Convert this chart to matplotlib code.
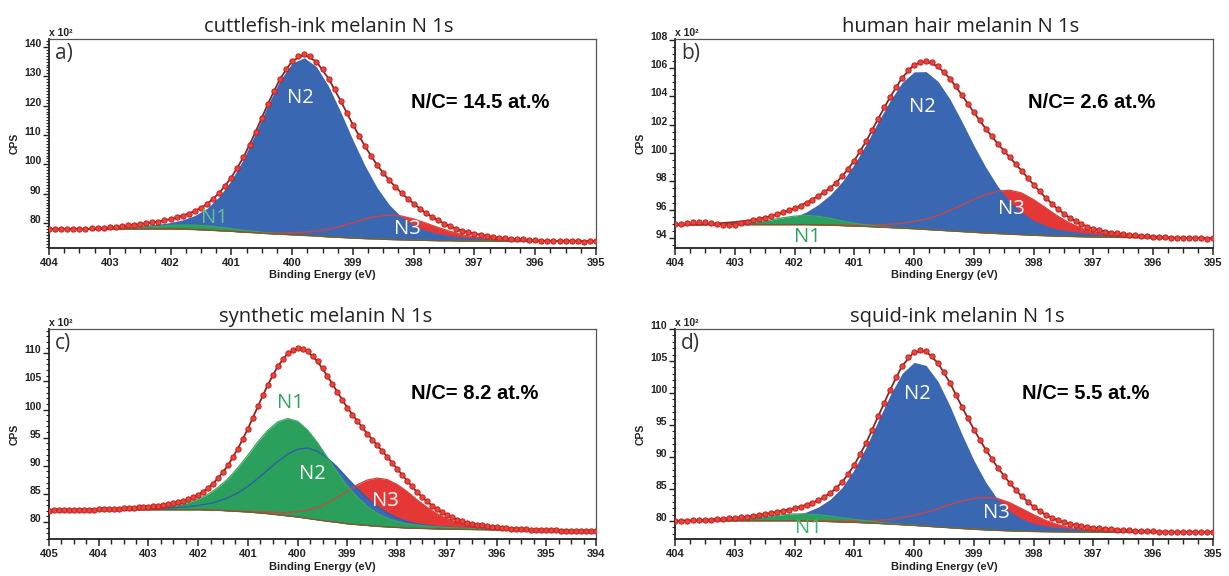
import numpy as np
import matplotlib
matplotlib.use("Agg")
import matplotlib.pyplot as plt
from matplotlib.ticker import MultipleLocator

# ---------------- sampling grids (binding energy, eV) ----------------
FIT_STEP = 0.2
DATA_STEP = 0.1
range_a = (404.0, 395.0)
range_b = (404.0, 395.0)
range_c = (405.0, 394.0)
range_d = (404.0, 395.0)

# ---------------- panel a: cuttlefish-ink melanin ----------------
bg_a = [78.0, 78.0, 78.0, 78.0, 78.0, 78.0, 78.0, 78.0, 78.0, 78.0, 78.0, 77.9, 77.8, 77.6, 77.4, 77.2,
        76.9, 76.7, 76.4, 76.2, 76.0, 75.8, 75.6, 75.3, 75.1, 74.9, 74.7, 74.6, 74.4, 74.3, 74.2, 74.1,
        74.0, 74.0, 73.9, 73.9, 73.9, 73.9, 73.9, 73.9, 73.8, 73.8, 73.8, 73.8, 73.8, 73.8]
n1_a = [0, 0, 0, 0, 0, 0.1, 0.2, 0.4, 0.6, 0.9, 1.2, 1.4, 1.5, 1.4, 1.2, 0.9, 0.6, 0.4, 0.2, 0.1,
        0, 0, 0, 0, 0, 0, 0, 0, 0, 0, 0, 0, 0, 0, 0, 0, 0, 0, 0, 0, 0, 0, 0, 0, 0, 0]
n2_a = [0, 0, 0, 0, 0.2, 0.4, 0.7, 1.0, 1.3, 1.6, 2.2, 3.2, 4.8, 7.4, 11.6, 17.4, 24.9, 34.0, 43.7,
        52.4, 58.5, 60.5, 57.7, 51.3, 42.7, 33.4, 24.8, 17.4, 11.8, 7.8, 5.2, 3.4, 2.4, 1.7, 1.3, 1.1,
        0.9, 0.6, 0.4, 0.3, 0.2, 0.1, 0, 0, 0, 0]
n3_a = [0, 0, 0, 0, 0, 0, 0, 0, 0, 0, 0, 0, 0, 0, 0, 0, 0, 0, 0.2, 0.4, 0.7, 1.1, 1.7, 2.6, 3.8, 5.2,
        6.6, 7.7, 8.3, 8.1, 7.2, 5.9, 4.5, 3.2, 2.1, 1.4, 0.8, 0.5, 0.3, 0.2, 0.1, 0, 0, 0, 0, 0]
cps_a = [78.0, 78.1, 78.0, 78.1, 78.1, 78.0, 78.1, 78.2, 78.3, 78.4, 78.6, 78.7, 78.9, 79.2, 79.4, 79.7,
         79.9, 80.2, 80.5, 80.9, 81.4, 81.9, 82.5, 83.2, 84.1, 85.1, 86.4, 88.1, 90.2, 92.7, 95.5, 98.8,
         102.4, 106.7, 111.1, 115.9, 120.5, 125.0, 129.1, 132.4, 135.2, 136.8, 137.6, 136.8, 135.0,
         132.4, 129.2, 125.6, 121.6, 117.5, 113.5, 109.8, 106.1, 102.8, 99.7, 97.0, 94.5, 92.3, 90.2,
         88.3, 86.6, 84.9, 83.4, 82.1, 80.9, 79.8, 78.9, 78.0, 77.3, 76.8, 76.4, 76.0, 75.6, 75.3, 75.0,
         74.8, 74.6, 74.5, 74.4, 74.2, 74.1, 74.0, 73.9, 73.9, 73.8, 73.9, 73.8, 73.8, 73.7, 73.8, 73.8]

# ---------------- panel b: human hair melanin ----------------
bg_b = [94.95, 94.95, 94.95, 94.95, 94.95, 94.95, 94.95, 94.95, 94.95, 94.95, 94.95, 94.95, 94.93, 94.91,
        94.88, 94.85, 94.82, 94.78, 94.74, 94.70, 94.66, 94.61, 94.56, 94.51, 94.46, 94.41, 94.36, 94.32,
        94.28, 94.24, 94.20, 94.17, 94.14, 94.12, 94.10, 94.08, 94.06, 94.05, 94.04, 94.03, 94.02, 94.01,
        94.00, 94.00, 93.99, 93.98]
n1_b = [0, 0, 0, 0, 0.03, 0.06, 0.11, 0.2, 0.33, 0.48, 0.6, 0.65, 0.6, 0.48, 0.33, 0.2, 0.11, 0.06, 0.03,
        0, 0, 0, 0, 0, 0, 0, 0, 0, 0, 0, 0, 0, 0, 0, 0, 0, 0, 0, 0, 0, 0, 0, 0, 0, 0, 0]
n2_b = [0, 0, 0, 0.05, 0.08, 0.12, 0.16, 0.2, 0.27, 0.38, 0.55, 0.9, 1.45, 2.15, 3.12, 4.36, 5.82, 7.44,
        8.96, 10.28, 11.07, 11.14, 10.5, 9.3, 7.76, 6.13, 4.63, 3.33, 2.32, 1.57, 1.05, 0.71, 0.49, 0.37,
        0.28, 0.22, 0.18, 0.14, 0.1, 0.07, 0.05, 0.03, 0.02, 0, 0, 0]
n3_b = [0, 0, 0, 0, 0, 0, 0, 0, 0, 0, 0, 0, 0, 0, 0.03, 0.06, 0.1, 0.15, 0.23, 0.34, 0.51, 0.74, 1.05,
        1.45, 1.86, 2.33, 2.72, 3.0, 3.1, 2.94, 2.51, 1.97, 1.42, 0.95, 0.6, 0.36, 0.22, 0.14, 0.09, 0.06,
        0.04, 0.02, 0, 0, 0, 0]
cps_b = [94.98, 95.02, 95.05, 95.10, 95.12, 95.10, 95.03, 94.97, 94.93, 94.92, 94.95, 95.05, 95.15, 95.25,
         95.36, 95.45, 95.55, 95.67, 95.81, 95.95, 96.10, 96.28, 96.50, 96.72, 96.98, 97.24, 97.54, 97.92,
         98.36, 98.90, 99.47, 100.15, 100.85, 101.65, 102.43, 103.22, 103.96, 104.68, 105.32, 105.85,
         106.24, 106.45, 106.52, 106.40, 106.11, 105.72, 105.26, 104.70, 104.08, 103.47, 102.87, 102.30,
         101.71, 101.18, 100.65, 100.17, 99.70, 99.24, 98.75, 98.26, 97.76, 97.30, 96.85, 96.43, 96.05,
         95.72, 95.44, 95.18, 94.98, 94.80, 94.66, 94.55, 94.46, 94.39, 94.33, 94.27, 94.23, 94.19, 94.16,
         94.13, 94.11, 94.08, 94.06, 94.04, 94.02, 94.03, 94.00, 93.98, 94.00, 93.97, 93.98]

# ---------------- panel c: synthetic melanin ----------------
bg_c = [82.2, 82.2, 82.2, 82.2, 82.2, 82.2, 82.2, 82.2, 82.2, 82.2, 82.2, 82.2, 82.2, 82.2, 82.2,
        82.2, 82.15, 82.1, 82.0, 81.9, 81.8, 81.65, 81.5, 81.3, 81.1, 80.9, 80.65, 80.4, 80.15, 79.95,
        79.7, 79.55, 79.4, 79.25, 79.15, 79.05, 78.95, 78.9, 78.85, 78.8, 78.75, 78.72, 78.7, 78.67,
        78.65, 78.62, 78.6, 78.58, 78.56, 78.54, 78.52, 78.5, 78.48, 78.46, 78.44, 78.42]
n1_c = [0, 0, 0, 0, 0, 0.04, 0.08, 0.13, 0.2, 0.28, 0.38, 0.5, 0.66, 0.9, 1.28, 1.9, 2.79, 4.08, 5.71,
        7.79, 10.1, 12.6, 14.8, 16.5, 17.3, 17.0, 15.7, 13.7, 11.3, 8.9, 6.7, 4.9, 3.4, 2.3, 1.56, 1.07,
        0.76, 0.57, 0.45, 0.36, 0.3, 0.25, 0.2, 0.16, 0.12, 0.09, 0.06, 0.04, 0.02, 0, 0, 0, 0, 0, 0, 0]
n2_c = [0, 0, 0, 0, 0, 0, 0.03, 0.06, 0.1, 0.14, 0.19, 0.25, 0.32, 0.41, 0.54, 0.75, 1.1, 1.59, 2.33,
        3.3, 4.56, 6.09, 7.78, 9.46, 10.96, 12.05, 12.5, 12.2, 11.22, 9.79, 8.1, 6.41, 4.83, 3.53, 2.5,
        1.71, 1.16, 0.8, 0.58, 0.43, 0.34, 0.28, 0.23, 0.19, 0.15, 0.12, 0.09, 0.06, 0.04, 0.02,
        0, 0, 0, 0, 0, 0]
n3_c = [0, 0, 0, 0, 0, 0, 0, 0, 0, 0, 0, 0, 0, 0, 0, 0, 0, 0.02, 0.04, 0.08, 0.13, 0.2, 0.29, 0.42,
        0.61, 0.96, 1.47, 2.24, 3.24, 4.47, 5.8, 7.1, 8.08, 8.57, 8.41, 7.64, 6.49, 5.07, 3.81, 2.69,
        1.85, 1.21, 0.77, 0.52, 0.36, 0.26, 0.18, 0.12, 0.08, 0.05, 0.03, 0.01, 0, 0, 0, 0]
cps_c = [82.05, 82.10, 82.08, 82.12, 82.15, 82.12, 82.18, 82.20, 82.22, 82.20, 82.25, 82.28, 82.31,
         82.35, 82.39, 82.44, 82.50, 82.56, 82.62, 82.69, 82.77, 82.85, 82.95, 83.06, 83.18, 83.33,
         83.51, 83.74, 84.02, 84.39, 84.85, 85.40, 86.04, 86.85, 87.79, 88.87, 90.08, 91.50, 93.07,
         94.78, 96.59, 98.55, 100.54, 102.50, 104.37, 106.10, 107.68, 108.95, 109.97, 110.60, 110.91,
         110.80, 110.32, 109.55, 108.54, 107.30, 105.91, 104.52, 103.11, 101.70, 100.30, 99.10, 97.96,
         96.82, 95.71, 94.66, 93.65, 92.64, 91.62, 90.55, 89.47, 88.41, 87.36, 86.33, 85.34, 84.48,
         83.69, 82.95, 82.28, 81.72, 81.24, 80.82, 80.46, 80.16, 79.90, 79.70, 79.54, 79.40, 79.28,
         79.18, 79.09, 79.00, 78.93, 78.86, 78.80, 78.74, 78.70, 78.65, 78.61, 78.58, 78.55, 78.53,
         78.51, 78.49, 78.48, 78.47, 78.46, 78.45, 78.44, 78.43, 78.42]

# ---------------- panel d: squid-ink melanin ----------------
bg_d = [80.05, 80.05, 80.05, 80.05, 80.05, 80.05, 80.05, 80.05, 80.05, 80.05, 80.05, 80.0, 79.97, 79.92,
        79.86, 79.8, 79.72, 79.63, 79.53, 79.43, 79.32, 79.2, 79.08, 78.96, 78.84, 78.73, 78.63, 78.55,
        78.48, 78.42, 78.38, 78.35, 78.33, 78.31, 78.3, 78.3, 78.29, 78.28, 78.28, 78.27, 78.27, 78.26,
        78.26, 78.25, 78.25, 78.25]
n1_d = [0, 0.02, 0.05, 0.09, 0.15, 0.24, 0.37, 0.55, 0.75, 0.94, 1.07, 1.1, 1.01, 0.85, 0.65, 0.46, 0.3,
        0.19, 0.11, 0.07, 0.04, 0.02, 0, 0, 0, 0, 0, 0, 0, 0, 0, 0, 0, 0, 0, 0, 0, 0, 0, 0, 0, 0, 0, 0, 0, 0]
n2_d = [0, 0, 0.05, 0.1, 0.15, 0.2, 0.26, 0.34, 0.45, 0.62, 0.9, 1.43, 2.23, 3.51, 5.43, 8.27, 11.9,
        16.05, 20.15, 23.63, 25.47, 25.11, 22.73, 19.02, 14.72, 10.75, 7.42, 4.81, 3.07, 1.92, 1.25, 0.87,
        0.67, 0.56, 0.48, 0.41, 0.35, 0.28, 0.22, 0.16, 0.11, 0.07, 0.04, 0.02, 0, 0]
n3_d = [0, 0, 0, 0, 0, 0, 0, 0, 0, 0, 0, 0.02, 0.05, 0.09, 0.15, 0.23, 0.33, 0.5, 0.74, 1.11, 1.58, 2.19,
        2.86, 3.61, 4.28, 4.82, 5.08, 4.97, 4.39, 3.52, 2.6, 1.76, 1.12, 0.69, 0.42, 0.26, 0.16, 0.1, 0.06,
        0.03, 0, 0, 0, 0, 0, 0]
cps_d = [80.02, 80.06, 80.08, 80.10, 80.14, 80.18, 80.24, 80.29, 80.35, 80.42, 80.49, 80.58, 80.68,
         80.80, 80.94, 81.09, 81.25, 81.42, 81.61, 81.80, 82.02, 82.26, 82.55, 82.88, 83.26, 83.76,
         84.37, 85.15, 86.09, 87.32, 88.76, 90.42, 92.25, 94.28, 96.37, 98.48, 100.53, 102.45, 104.24,
         105.55, 106.41, 106.70, 106.52, 105.80, 104.67, 103.25, 101.59, 99.75, 97.84, 96.05, 94.30,
         92.68, 91.13, 89.70, 88.33, 87.08, 85.94, 84.87, 83.86, 83.00, 82.23, 81.57, 80.98, 80.52,
         80.12, 79.82, 79.56, 79.36, 79.20, 79.07, 78.97, 78.88, 78.80, 78.72, 78.66, 78.60, 78.56,
         78.50, 78.46, 78.42, 78.38, 78.35, 78.33, 78.31, 78.30, 78.28, 78.27, 78.26, 78.25, 78.25, 78.25]

titles = ["cuttlefish-ink melanin N 1s", "human hair melanin N 1s",
          "synthetic melanin N 1s", "squid-ink melanin N 1s"]
panel_tags = ["a)", "b)", "c)", "d)"]
nc_texts = ["N/C= 14.5 at.%", "N/C= 2.6 at.%", "N/C= 8.2 at.%", "N/C= 5.5 at.%"]
ylims = [(71.5, 142.7), (93.3, 108.05), (77.0, 114.3), (77.2, 110.0)]
ymajor = [10, 2, 5, 5]
yminor = [1, 0.5, 1, 1]

# peak-label anchor points (eV, CPS/100)
lab_a = {"N1": (401.27, 81.7), "N2": (399.86, 122.5), "N3": (398.11, 78.0)}
lab_b = {"N1": (401.79, 94.07), "N2": (399.87, 103.27), "N3": (398.38, 96.07)}
lab_c = {"N1": (400.14, 101.1), "N2": (399.71, 88.5), "N3": (398.23, 83.7)}
lab_d = {"N1": (401.77, 78.9), "N2": (399.94, 99.9), "N3": (398.63, 81.25)}

# ---------------- style ----------------
BLUE = "#3a67b2"
RED = "#e63737"
GREEN = "#2aa05c"
N1_LAB = ["#66bf8f", "#2ea35e", "#2ea35e", "#3ab46a"]
ENV = "#8a2420"
BGLINE = "#7d5a2e"
MK_FACE = "#e8453c"
MK_EDGE = "#c41f1b"
BOLD = "Liberation Sans"
SOFT = "Open Sans"


def grid(rng, step):
    hi, lo = rng
    return np.round(np.arange(hi, lo - step / 2, -step), 2)


panels = [
    (range_a, bg_a, n1_a, n2_a, n3_a, cps_a, lab_a),
    (range_b, bg_b, n1_b, n2_b, n3_b, cps_b, lab_b),
    (range_c, bg_c, n1_c, n2_c, n3_c, cps_c, lab_c),
    (range_d, bg_d, n1_d, n2_d, n3_d, cps_d, lab_d),
]

fig = plt.figure(figsize=(12.29, 5.76), dpi=100)
W, H = 1229, 576
boxes = [(49, 39, 596, 248), (675, 39, 1213, 248), (49, 329, 596, 539), (675, 329, 1213, 539)]
title_x = [0.511, 0.53, 0.505, 0.524]
nc_pos = [(0.662, 0.694), (0.656, 0.694), (0.662, 0.695), (0.645, 0.695)]

for i, (rng, bg, n1, n2, n3, cps, labs) in enumerate(panels):
    x0, y0, x1, y1 = boxes[i]
    ax = fig.add_axes([x0 / W, 1 - y1 / H, (x1 - x0) / W, (y1 - y0) / H])
    ef = grid(rng, FIT_STEP)
    ed = grid(rng, DATA_STEP)
    bg = np.array(bg, float)
    n1 = np.array(n1, float)
    n2 = np.array(n2, float)
    n3 = np.array(n3, float)
    cps = np.array(cps, float)
    assert len(bg) == len(ef) == len(n1) == len(n2) == len(n3), (i, len(ef), len(bg), len(n1), len(n2), len(n3))
    assert len(cps) == len(ed), (i, len(cps), len(ed))
    env = bg + n1 + n2 + n3

    ax.fill_between(ef, bg, bg + n3, color=RED, lw=0, zorder=1)
    ax.fill_between(ef, bg, bg + n2, color=BLUE, lw=0, zorder=2)
    ax.fill_between(ef, bg, bg + n1, color=GREEN, lw=0, zorder=3)
    if i == 2:
        ax.plot(ef, bg + n2, color="#2f5fa8", lw=1.0, zorder=4)
    ax.plot(ef, bg + n3, color="#d5423c", lw=0.9, zorder=4)
    ax.plot(ef, bg + n1, color="#3aa860", lw=0.9, zorder=4)
    ax.plot(ef, bg, color=BGLINE, lw=1.0, zorder=5)
    ax.plot(ef, env, color=ENV, lw=1.3, zorder=6)
    ax.plot(ed, cps, "o", ms=3.8, mfc=MK_FACE, mec=MK_EDGE, mew=0.7, zorder=7)

    ax.set_xlim(rng[0], rng[1])
    ax.set_ylim(*ylims[i])
    ax.xaxis.set_major_locator(MultipleLocator(1))
    ax.xaxis.set_minor_locator(MultipleLocator(0.25))
    ax.yaxis.set_major_locator(MultipleLocator(ymajor[i]))
    ax.yaxis.set_minor_locator(MultipleLocator(yminor[i]))
    ax.xaxis.set_major_formatter(plt.FuncFormatter(lambda v, p: f"{v:.0f}"))
    ax.yaxis.set_major_formatter(plt.FuncFormatter(lambda v, p: f"{v:.0f}"))
    ax.tick_params(axis="x", which="major", direction="out", length=5, width=1.1, pad=2.5,
                   labelsize=8, colors="#222")
    ax.tick_params(axis="x", which="minor", direction="out", length=3.5, width=1.0, colors="#222")
    ax.tick_params(axis="y", which="major", direction="out", length=4, width=1.0, pad=1.5,
                   labelsize=7.5, colors="#222")
    ax.tick_params(axis="y", which="minor", direction="out", length=2.2, width=0.8, colors="#222")
    for lab in ax.get_xticklabels() + ax.get_yticklabels():
        lab.set_fontfamily(BOLD)
        lab.set_fontweight("bold")
    for lab in ax.get_yticklabels():
        lab.set_verticalalignment("baseline")

    for side in ("left", "bottom"):
        ax.spines[side].set_linewidth(1.3)
        ax.spines[side].set_color("#222")
    for side in ("top", "right"):
        ax.spines[side].set_linewidth(0.9)
        ax.spines[side].set_color("#555")

    ax.set_xlabel("Binding Energy (eV)", fontfamily=BOLD, fontweight="bold", fontsize=8, labelpad=1.5,
                  color="#222")
    ax.set_ylabel("CPS", fontfamily=BOLD, fontweight="bold", fontsize=7.5, labelpad=3, color="#222")
    ax.set_title(titles[i], fontfamily=SOFT, fontsize=14.5, x=title_x[i], pad=5, color="#222")
    ax.text(0.0, 1.005, "x 10²", transform=ax.transAxes, ha="left", va="bottom",
            fontfamily=BOLD, fontweight="bold", fontsize=7.5, color="#222")
    ax.text(0.011, 0.93, panel_tags[i], transform=ax.transAxes, ha="left", va="center",
            fontfamily=SOFT, fontsize=15, color="#333")
    ax.text(nc_pos[i][0], nc_pos[i][1], nc_texts[i], transform=ax.transAxes, ha="left", va="center",
            fontfamily=BOLD, fontweight="bold", fontsize=14.5, color="black")
    for name, (ex, ey) in labs.items():
        col = N1_LAB[i] if name == "N1" else "white"
        ax.text(ex, ey, name, ha="center", va="center", fontfamily=SOFT, fontsize=14.5, color=col, zorder=8)

fig.savefig("out.png", dpi=100)
